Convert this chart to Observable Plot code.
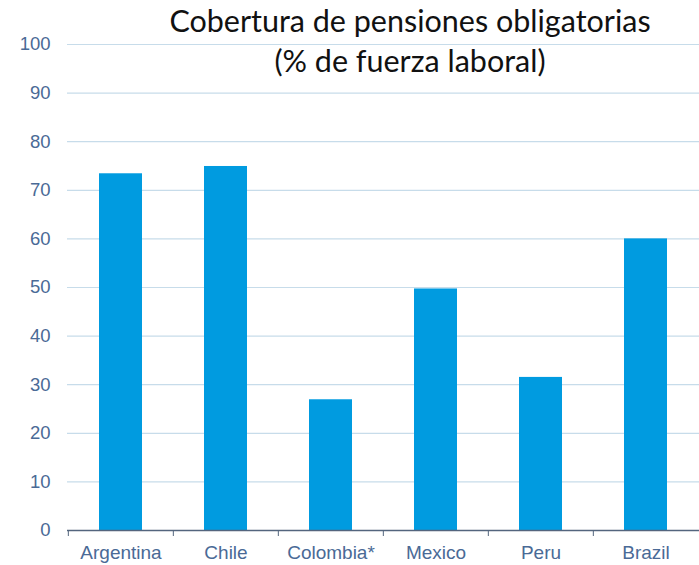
<!DOCTYPE html>
<html>
<head>
<meta charset="utf-8">
<script src="https://cdn.jsdelivr.net/npm/d3@7"></script>
<script src="https://cdn.jsdelivr.net/npm/@observablehq/plot@0.6"></script>
<style>
  html, body { margin: 0; padding: 0; background: #fff; }
  #wrap { position: relative; width: 699px; height: 565px; overflow: hidden; }
  #title { position: absolute; left: 110px; top: 0; width: 600px; text-align: center;
    font-family: Lato, "Open Sans", sans-serif; font-size: 30.5px; line-height: 40px; color: #111; }
</style>
</head>
<body>
<div id="wrap">
  <div id="chart"></div>
  <div id="title">Cobertura de pensiones obligatorias<br>(% de fuerza laboral)</div>
</div>
<script>
const countries = ["Argentina", "Chile", "Colombia*", "Mexico", "Peru", "Brazil"];
const coverage = [73.4, 74.9, 26.9, 49.7, 31.5, 60.0];
const yTicks = [0, 10, 20, 30, 40, 50, 60, 70, 80, 90, 100];

const data = countries.map((c, i) => ({country: c, value: coverage[i]}));

const W = 699, H = 565, mL = 67, mR = 0;
const step = (W - mL - mR) / countries.length;
const textColor = "#4a6a96";

const plot = Plot.plot({
  width: W,
  height: H,
  marginTop: 44,
  marginBottom: 35,
  marginLeft: mL,
  marginRight: mR,
  style: {fontFamily: "Liberation Sans, Arial, sans-serif", fontSize: "18px", color: textColor, background: "transparent"},
  x: {domain: countries, paddingInner: 0.59, paddingOuter: 0.295, label: null},
  y: {domain: [0, 100], label: null},
  marks: [
    Plot.gridY(yTicks, {stroke: "#c7dcea", strokeOpacity: 1, strokeWidth: 1.2}),
    Plot.axisY(yTicks, {tickSize: 0, tickPadding: 17, label: null, fill: textColor, fontSize: 18.5}),
    Plot.barY(data, {x: "country", y: "value", fill: "#009be0"}),
    Plot.ruleY([0], {stroke: "#53657e", strokeWidth: 1.5}),
    Plot.axisX({tickSize: 6, dx: -step / 2, tickFormat: () => "", stroke: "#53657e", label: null}),
    Plot.axisX({tickSize: 0, tickPadding: 15, label: null, fill: textColor, fontSize: 19})
  ]
});
document.getElementById("chart").appendChild(plot);
</script>
</body>
</html>
